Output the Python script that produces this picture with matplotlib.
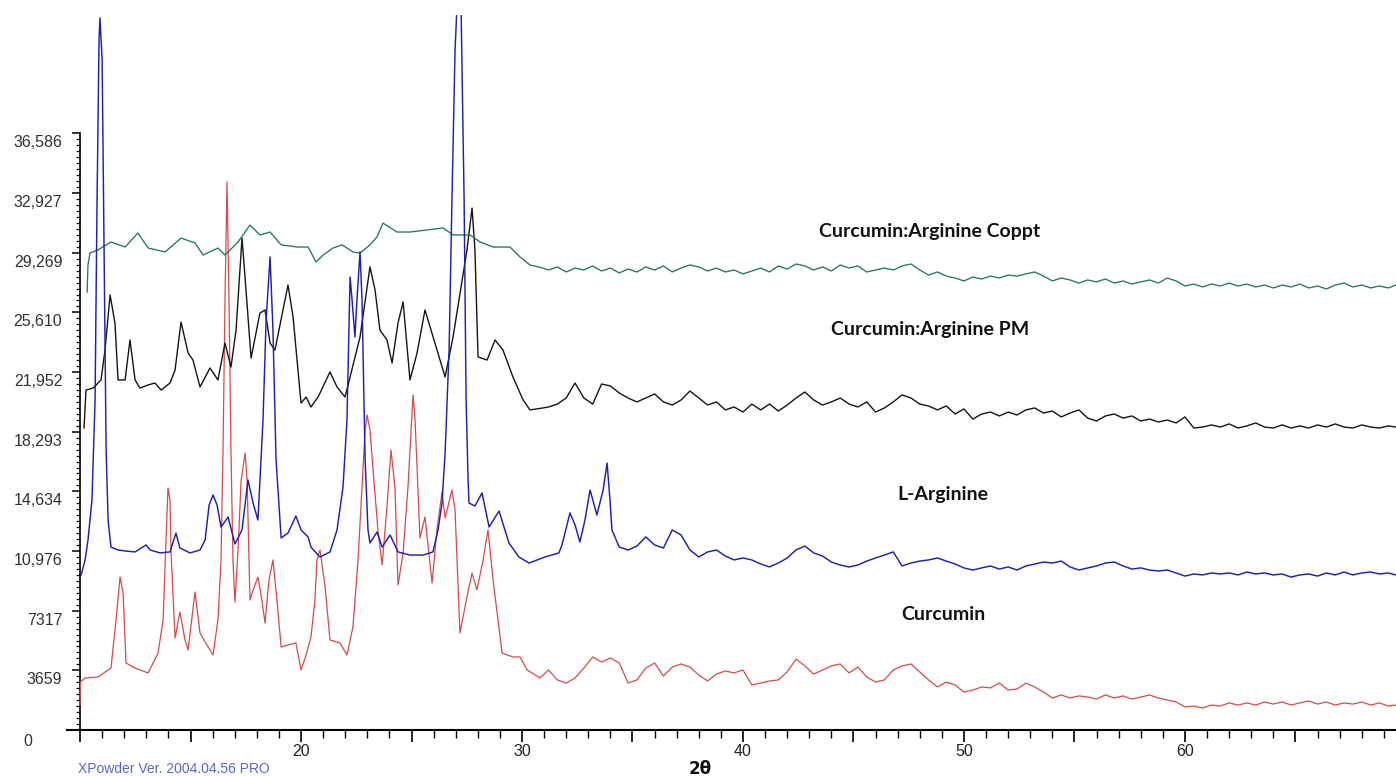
import matplotlib
matplotlib.use("Agg")
import matplotlib.pyplot as plt
import matplotlib.transforms as mtransforms
import numpy as np

# ---------------- data (2theta, counts) ----------------
# shared sampling positions for the noisy high-angle tails
tail_2t = [31.2, 31.6, 32.0, 32.4, 32.8, 33.2, 33.6, 34.0, 34.4, 34.8,
           35.2, 35.6, 36.0, 36.4, 36.8, 37.2, 37.6, 38.0, 38.4, 38.8,
           39.2, 39.6, 40.0, 40.4, 40.8, 41.2, 41.6, 42.0, 42.4, 42.8,
           43.2, 43.6, 44.0, 44.4, 44.8, 45.2, 45.6, 46.0, 46.4, 46.8,
           47.2, 47.6, 48.0, 48.4, 48.8, 49.2, 49.6, 50.0, 50.4, 50.8,
           51.2, 51.6, 52.0, 52.4, 52.8, 53.2, 53.6, 54.0, 54.4, 54.8,
           55.2, 55.6, 56.0, 56.4, 56.8, 57.2, 57.6, 58.0, 58.4, 58.8,
           59.2, 59.6, 60.0, 60.4, 60.8, 61.2, 61.6, 62.0, 62.4, 62.8,
           63.2, 63.6, 64.0, 64.4, 64.8, 65.2, 65.6, 66.0, 66.4, 66.8,
           67.2, 67.6, 68.0, 68.4, 68.8, 69.2, 69.55]

# Curcumin (red)
curcumin_head_2t = [10.00, 10.02, 10.23, 10.81, 11.40, 11.63, 11.81, 11.95, 12.08, 12.49, 13.08, 13.53, 13.76, 13.89,
                    13.98, 14.07, 14.12, 14.30, 14.52, 14.75, 14.89, 15.20, 15.43, 15.66, 16.02, 16.24, 16.38, 16.47,
                    16.56, 16.65, 16.74, 16.83, 16.92, 17.01, 17.15, 17.29, 17.47, 17.56, 17.69, 17.83, 18.05, 18.23,
                    18.37, 18.55, 18.73, 18.91, 19.10, 19.41, 19.77, 20.00, 20.23, 20.45, 20.63, 20.72, 20.86, 21.09,
                    21.31, 21.76, 22.08, 22.35, 22.58, 22.76, 22.90, 22.99, 23.12, 23.26, 23.48, 23.67, 23.89, 24.07,
                    24.25, 24.39, 24.62, 24.84, 24.98, 25.07, 25.16, 25.25, 25.38, 25.61, 25.93, 26.15, 26.38, 26.52,
                    26.83, 26.97, 27.19, 27.51, 27.74, 27.96, 28.24, 28.46, 28.69, 29.10, 29.59, 29.91, 30.23, 30.81]
curcumin_head_cts = [1530, 2940, 3190, 3250, 3800, 6750, 9380, 8400, 4110, 3800, 3500, 4720, 6750, 11650,
                     14840, 14110, 10860, 5640, 7240, 5520, 4910, 8460, 5950, 5400, 4600, 6750, 10430, 17170,
                     26370, 33610, 26370, 17170, 10430, 7850, 11040, 15330, 16990, 15330, 7970, 8590, 9380, 7970,
                     6560, 9200, 10430, 7970, 5090, 5210, 5340, 3680, 4600, 5700, 7970, 10430, 11040, 8770,
                     5520, 5340, 4600, 6320, 10430, 14900, 18400, 19320, 18400, 15950, 12270, 10120, 13680, 17170,
                     14900, 8890, 10860, 14900, 18400, 20550, 19010, 16130, 11780, 13060, 9020, 12270, 14600, 13000,
                     14720, 13490, 5950, 8160, 9630, 8590, 10430, 12270, 9200, 4720, 4480, 4480, 3680, 3190]
curcumin_tail_cts = [3680, 3070, 2880, 3190, 3800, 4480, 4170, 4420, 4110, 2880,
                     3070, 3800, 4110, 3310, 3860, 4050, 3860, 3370, 3010, 3430,
                     3620, 3500, 3680, 2760, 2880, 3010, 3070, 3560, 4350, 3930,
                     3430, 3680, 3930, 4050, 3500, 3860, 3250, 2940, 3070, 3680,
                     3930, 4050, 3560, 3070, 2640, 2940, 2760, 2330, 2450, 2640,
                     2580, 2880, 2450, 2510, 2880, 2640, 2330, 1960, 2150, 1960,
                     2090, 2020, 1900, 2150, 1960, 2090, 1900, 2020, 2150, 1960,
                     1840, 1720, 1410, 1470, 1350, 1530, 1470, 1660, 1530, 1660,
                     1530, 1720, 1590, 1720, 1530, 1660, 1780, 1590, 1720, 1530,
                     1660, 1590, 1720, 1530, 1660, 1470, 1530]

# L-Arginine (blue)
arginine_head_2t = [10.05, 10.23, 10.36, 10.54, 10.68, 10.77, 10.86, 10.90, 11.00, 11.09, 11.18, 11.27, 11.40, 11.72,
                    12.04, 12.49, 12.99, 13.17, 13.62, 14.07, 14.34, 14.52, 14.98, 15.43, 15.66, 15.84, 16.02, 16.20,
                    16.38, 16.70, 17.01, 17.33, 17.60, 17.83, 18.05, 18.28, 18.42, 18.60, 18.73, 18.87, 19.10, 19.41,
                    19.77, 20.00, 20.32, 20.45, 20.77, 20.86, 21.31, 21.63, 21.90, 22.08, 22.22, 22.31, 22.44, 22.53,
                    22.67, 22.76, 22.90, 23.03, 23.12, 23.44, 23.67, 24.03, 24.39, 24.93, 25.52, 25.97, 26.20, 26.38,
                    26.52, 26.70, 26.83, 26.97, 27.06, 27.15, 27.24, 27.38, 27.47, 27.56, 27.60, 27.87, 28.19, 28.51,
                    28.96, 29.41, 29.86, 30.32, 31.04, 31.67, 31.81, 32.17, 32.40, 32.62, 32.85, 33.08, 33.39, 33.67,
                    33.85, 33.98, 34.07]
arginine_head_cts = [9510, 10430, 11650, 14110, 20240, 32500, 42320, 43670, 41090, 29440, 17170, 12880, 11220, 11040,
                     10980, 10920, 11350, 11040, 10860, 10920, 12080, 11160, 10860, 11040, 11650, 13800, 14410, 13800,
                     12450, 13060, 11410, 12270, 15330, 13920, 12880, 19010, 25150, 29010, 24530, 16560, 11780, 12080,
                     13120, 12270, 11840, 11220, 10730, 10610, 10920, 12270, 14900, 19010, 27780, 26370, 24100, 26370,
                     29320, 26370, 16560, 12270, 11470, 12140, 11220, 11960, 10920, 10730, 10730, 10920, 12270, 13920,
                     16990, 23300, 32500, 41700, 44500, 47000, 44500, 32500, 20240, 15330, 13920, 13740, 14540, 12450,
                     13430, 11470, 10610, 10240, 10610, 10860, 11350, 13310, 12570, 11530, 12880, 14720, 13190, 14720,
                     16370, 14110, 12270]
arginine_tail_cts = [11220, 11040,
                     11280, 11840, 11350, 11160, 12270, 11960, 11040, 10610, 10920, 11040,
                     10670, 10430, 10550, 10430, 10180, 10000, 10240, 10550, 11040, 11280,
                     10860, 10670, 10300, 10120, 10000, 10120, 10360, 10550, 10730, 10920,
                     10060, 10240, 10360, 10430, 10550, 10360, 10180, 9940, 9810, 9940,
                     10060, 9870, 10000, 9810, 10060, 10180, 10300, 10240, 10360, 10000,
                     9810, 9940, 10060, 10240, 10300, 10060, 9870, 9940, 9810, 9750,
                     9810, 9630, 9440, 9570, 9510, 9630, 9570, 9630, 9510, 9690,
                     9570, 9630, 9510, 9570, 9380, 9510, 9570, 9440, 9630, 9510,
                     9690, 9510, 9630, 9690, 9570, 9630, 9510]

# Curcumin:Arginine PM (black)
pm_head_2t = [10.18, 10.27, 10.59, 10.95, 11.13, 11.36, 11.58, 11.72, 12.04, 12.26, 12.49, 12.71, 13.08, 13.39,
              13.67, 14.07, 14.30, 14.57, 14.89, 15.11, 15.43, 15.88, 16.24, 16.56, 16.83, 17.06, 17.33, 17.51,
              17.74, 18.14, 18.37, 18.60, 18.82, 19.41, 19.64, 20.00, 20.23, 20.45, 20.77, 20.86, 21.31, 21.63,
              21.99, 22.22, 22.67, 23.12, 23.35, 23.57, 23.89, 24.12, 24.39, 24.62, 24.93, 25.25, 25.61, 25.84,
              26.15, 26.52, 26.88, 27.51, 27.74, 27.87, 28.01, 28.42, 28.78, 29.14, 29.59, 30.05, 30.36, 30.95]
pm_head_cts = [18520, 20850, 20970, 21470, 23300, 26680, 24960, 21470, 21470, 23920, 21470, 20970, 21160, 21280,
               20850, 21280, 22080, 25020, 23120, 22690, 21040, 22200, 21470, 23730, 22260, 24530, 30170, 26990,
               22810, 25570, 25760, 23730, 23300, 27290, 25330, 20050, 20420, 19810, 20420, 20670, 21960, 21040,
               20420, 21650, 24100, 28400, 26990, 24530, 23920, 22510, 24960, 26250, 21470, 23120, 25760, 24720,
               23300, 21650, 24100, 29440, 32010, 29440, 22880, 22690, 23920, 23300, 21650, 20240, 19630, 19750]
pm_tail_cts = [19810, 19990, 20360, 21280, 20360, 19990, 21220, 21100, 20670, 20360,
               20120, 20360, 20610, 20120, 19930, 20240, 20790, 20360, 19930, 20120,
               19630, 19810, 19500, 19990, 19630, 19990, 19560, 19930, 20360, 20730,
               20240, 19930, 20120, 20360, 19990, 19810, 20120, 19500, 19750, 20120,
               20550, 20360, 19990, 19870, 19630, 19870, 19380, 19690, 19070, 19380,
               19500, 19260, 19500, 19320, 19630, 19750, 19440, 19560, 19200, 19440,
               19630, 19130, 18950, 19260, 19380, 19130, 19260, 18950, 19070, 18890,
               19010, 18830, 19200, 18520, 18580, 18710, 18580, 18770, 18520, 18650,
               18830, 18580, 18520, 18710, 18520, 18650, 18520, 18710, 18580, 18770,
               18580, 18520, 18710, 18580, 18520, 18650, 18580]

# Curcumin:Arginine Coppt (green)
coppt_head_2t = [10.32, 10.36, 10.45, 10.81, 11.40, 12.04, 12.62, 13.08, 13.85, 14.57, 15.20, 15.57, 16.24, 16.56,
                 17.15, 17.69, 18.14, 18.60, 19.10, 19.86, 20.32, 20.68, 21.00, 21.45, 21.86, 22.35, 22.67, 23.12,
                 23.44, 23.71, 24.34, 24.93, 25.70, 26.43, 26.88, 27.65, 28.10, 28.69, 29.46, 29.91, 30.36, 30.95]
coppt_head_cts = [26860, 28520, 29250, 29440, 29930, 29620, 30480, 29560, 29320, 30170, 29870, 29130, 29560, 29130,
                  29930, 30970, 30360, 30540, 29750, 29620, 29620, 28700, 29130, 29560, 29750, 29320, 29250, 29750,
                  30240, 31090, 30540, 30540, 30670, 30790, 30360, 30360, 29930, 29620, 29620, 29010, 28520, 28330]
coppt_tail_cts = [28210, 28400, 28090, 28330, 28210, 28460, 28150, 28330, 28030, 28270,
                  28090, 28400, 28210, 28460, 28090, 28330, 28520, 28400, 28150, 28330,
                  28090, 28210, 27970, 28150, 28330, 28090, 28460, 28270, 28580, 28460,
                  28210, 28400, 28150, 28520, 28330, 28460, 28090, 28210, 28330, 28210,
                  28460, 28580, 28210, 27900, 28090, 27840, 27720, 27540, 27780, 27660,
                  27840, 27720, 27900, 27840, 27970, 28090, 27840, 27540, 27720, 27600,
                  27410, 27600, 27480, 27660, 27410, 27540, 27350, 27480, 27600, 27410,
                  27720, 27540, 27230, 27350, 27170, 27350, 27230, 27410, 27230, 27350,
                  27170, 27290, 27110, 27290, 27170, 27350, 27110, 27230, 27050, 27290,
                  27410, 27170, 27290, 27110, 27230, 27110, 27290]

series_labels = ["Curcumin:Arginine Coppt", "Curcumin:Arginine PM", "L-Arginine", "Curcumin"]
label_2t = [48.46, 48.46, 49.05, 49.05]
label_cts = [30600, 24590, 14470, 7110]

ytick_vals = [0, 3658.6, 7317.2, 10975.8, 14634.4, 18293.0, 21951.6, 25610.2, 29268.8, 32927.4, 36586.0]
ytick_text = ["0", "3659", "7317", "10,976", "14,634", "18,293", "21,952", "25,610", "29,269", "32,927", "36,586"]
xtick_major = [10, 15, 20, 25, 30, 35, 40, 45, 50, 55, 60, 65]
xtick_text = ["", "", "20", "", "30", "", "40", "", "50", "", "60", ""]

# ---------------- assemble series ----------------
curcumin_2t = curcumin_head_2t + tail_2t
curcumin_cts = curcumin_head_cts + curcumin_tail_cts
arginine_2t = arginine_head_2t + tail_2t[8:]
arginine_cts = arginine_head_cts + arginine_tail_cts
pm_2t = pm_head_2t + tail_2t
pm_cts = pm_head_cts + pm_tail_cts
coppt_2t = coppt_head_2t + tail_2t
coppt_cts = coppt_head_cts + coppt_tail_cts

# ---------------- figure ----------------
W, H = 1396, 776
fig = plt.figure(figsize=(W / 100, H / 100), dpi=100)
ax = fig.add_axes([67 / W, 1 - 730 / H, 1 - 67 / W, (730 - 15) / H])
ax.set_xlim(9.41, 69.55)
ax.set_ylim(0, 43850)

ax.plot(curcumin_2t, curcumin_cts, color="#d84a4a", lw=0.9, zorder=3)
ax.plot(arginine_2t, arginine_cts, color="#1f1fb4", lw=1.05, zorder=4)
ax.plot(pm_2t, pm_cts, color="#151515", lw=1.0, zorder=3)
ax.plot(coppt_2t, coppt_cts, color="#217a55", lw=0.95, zorder=3)

for txt, xx, yy in zip(series_labels, label_2t, label_cts):
    ax.text(xx, yy, txt, ha="center", va="center", fontsize=14, fontweight="bold",
            family="Lato", color="#111111")

# spines
for s in ["top", "right"]:
    ax.spines[s].set_visible(False)
ax.spines["left"].set_position(("data", 10))
ax.spines["left"].set_bounds(0, 36586)
ax.spines["left"].set_linewidth(1.2)
ax.spines["bottom"].set_linewidth(1.5)

# y ticks
ax.set_yticks(ytick_vals)
ax.set_yticklabels(["" if t == "0" else t for t in ytick_text])
ax.set_yticks(np.arange(0, 36586 + 1, 365.86), minor=True)
ax.tick_params(axis="y", which="major", length=5.8, width=1.1, direction="out", pad=7,
               labelsize=11.5, labelcolor="#333333")
ax.tick_params(axis="y", which="minor", length=2.6, width=0.9, direction="out")
offset = mtransforms.ScaledTranslation(0, -8 / 100, fig.dpi_scale_trans)
for lbl in ax.get_yticklabels():
    lbl.set_fontfamily("Liberation Sans")
    lbl.set_transform(lbl.get_transform() + offset)
fig.text(28 / W, 1 - 741 / H, "0", ha="center", va="center", fontsize=11.5,
         family="Liberation Sans", color="#333333")

# x ticks
ax.set_xticks(xtick_major)
ax.set_xticklabels(xtick_text)
ax.set_xticks(np.arange(10, 70, 1), minor=True)
ax.tick_params(axis="x", which="major", length=8.6, width=1.2, direction="out", pad=1.5,
               labelsize=11.5, labelcolor="#222222")
ax.tick_params(axis="x", which="minor", length=5.8, width=1.0, direction="out")
for lbl in ax.get_xticklabels():
    lbl.set_fontfamily("Liberation Sans")

fig.text(700 / W, 1 - 769 / H, "2θ", ha="center", va="center", fontsize=12,
         fontweight="bold", family="DejaVu Sans", color="#111111")
fig.text(78 / W, 1 - 769 / H, "XPowder Ver. 2004.04.56 PRO", ha="left", va="center",
         fontsize=10, family="Liberation Sans", color="#5a66c8")

fig.savefig("out.png", dpi=100)
